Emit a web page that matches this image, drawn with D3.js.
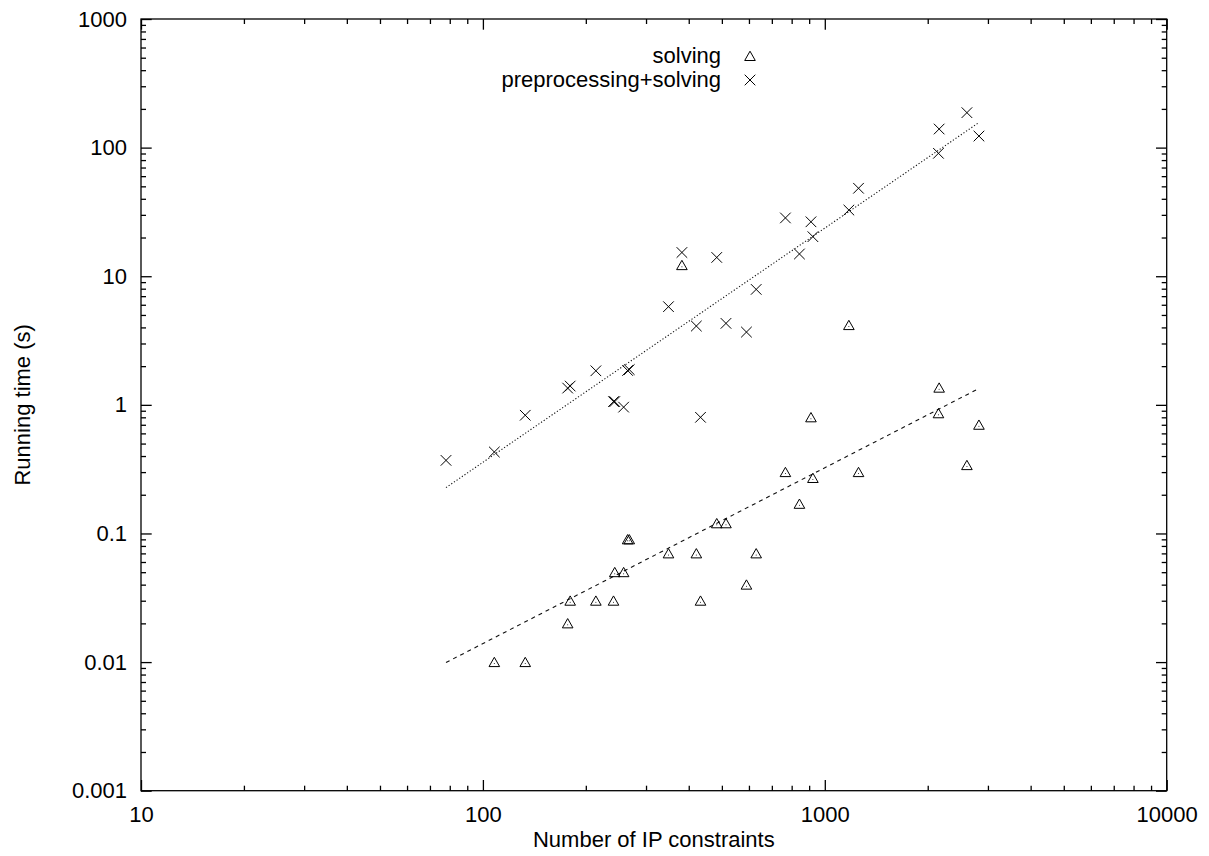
<!DOCTYPE html>
<meta charset="utf-8">
<style>
body { margin: 0; background: #fff; }
text { font-family: "Liberation Sans", Arial, sans-serif; font-size: 22px; fill: #000; }
.tick line, .border { stroke: #000; stroke-width: 1.3; }
.border { fill: none; }
.mark { fill: none; stroke: #000; stroke-width: 1; }
.fit { fill: none; stroke: #111; stroke-width: 1.1; }
</style>
<svg width="1209" height="856"></svg>
<script src="https://d3js.org/d3.v7.min.js"></script>
<script>

// instances: number of IP constraints, solving time, preprocessing+solving time
var constraints = [78, 108, 133, 177, 180, 214, 241, 243, 258, 265, 268, 349, 382, 421, 433,
  483, 514, 590, 630, 767, 843, 911, 923, 1176, 1255, 2160, 2150, 2604, 2824];
var solvingTime = [null, 0.01, 0.01, 0.02, 0.03, 0.03, 0.03, 0.05, 0.05, 0.09, 0.09, 0.07, 12.2, 0.07, 0.03,
  0.12, 0.12, 0.04, 0.07, 0.30, 0.17, 0.80, 0.27, 4.17, 0.30, 1.36, 0.86, 0.34, 0.70];
var totalTime = [0.37, 0.43, 0.83, 1.35, 1.40, 1.84, 1.06, 1.06, 0.96, 1.85, 1.88, 5.8, 15.3, 4.1, 0.80,
  14.0, 4.3, 3.68, 7.9, 28.4, 14.9, 26.5, 20.3, 32.7, 48.3, 139.5, 90.3, 187, 123];

// power-law fits y = coef * x^exp  (solving, preprocessing+solving)
var fitCoef = [2.57e-5, 8.15e-5];
var fitExp = [1.367, 1.821];

var seriesNames = ["solving", "preprocessing+solving"];
var xTickValues = [10, 100, 1000, 10000];
var xTickLabels = ["10", "100", "1000", "10000"];
var yTickValues = [0.001, 0.01, 0.1, 1, 10, 100, 1000];
var yTickLabels = ["0.001", "0.01", "0.1", "1", "10", "100", "1000"];

var margin = {top: 19, right: 42.3, bottom: 65.3, left: 141},
    W = 1209, H = 856,
    width = W - margin.left - margin.right,
    height = H - margin.top - margin.bottom;

var svg = d3.select("svg");
var g = svg.append("g")
    .attr("transform", "translate(" + margin.left + "," + margin.top + ")");

var x = d3.scaleLog().domain([10, 10000]).range([0, width]),
    y = d3.scaleLog().domain([0.001, 1000]).range([height, 0]);

var xMinor = x.ticks().filter(function(d) { return xTickValues.indexOf(d) < 0; });
var yMinor = y.ticks().filter(function(d) { return yTickValues.indexOf(+d.toPrecision(1)) < 0; });

function clean(sel) {
  sel.select(".domain").remove();
  sel.attr("font-size", null).attr("font-family", null);
}

var major = 10.7, minor = 5;

// major ticks with labels
g.append("g")
    .attr("transform", "translate(0," + height + ")")
    .call(d3.axisBottom(x).tickValues(xTickValues)
      .tickFormat(function(d, i) { return xTickLabels[i]; })
      .tickSize(-major).tickPadding(16))
    .call(clean);
g.append("g")
    .call(d3.axisLeft(y).tickValues(yTickValues)
      .tickFormat(function(d, i) { return yTickLabels[i]; })
      .tickSize(-major).tickPadding(14))
    .call(clean);
// mirrored ticks
g.append("g")
    .call(d3.axisTop(x).tickValues(xTickValues).tickFormat("").tickSize(-major))
    .call(clean);
g.append("g")
    .attr("transform", "translate(" + width + ",0)")
    .call(d3.axisRight(y).tickValues(yTickValues).tickFormat("").tickSize(-major))
    .call(clean);
// minor ticks
g.append("g")
    .attr("transform", "translate(0," + height + ")")
    .call(d3.axisBottom(x).tickValues(xMinor).tickFormat("").tickSize(-minor))
    .call(clean);
g.append("g")
    .call(d3.axisTop(x).tickValues(xMinor).tickFormat("").tickSize(-minor))
    .call(clean);
g.append("g")
    .call(d3.axisLeft(y).tickValues(yMinor).tickFormat("").tickSize(-minor))
    .call(clean);
g.append("g")
    .attr("transform", "translate(" + width + ",0)")
    .call(d3.axisRight(y).tickValues(yMinor).tickFormat("").tickSize(-minor))
    .call(clean);

g.append("rect")
    .attr("class", "border")
    .attr("width", width)
    .attr("height", height);

// axis titles
g.append("text")
    .attr("x", width / 2)
    .attr("y", height + 56)
    .attr("text-anchor", "middle")
    .text("Number of IP constraints");
svg.append("text")
    .attr("transform", "translate(30," + (margin.top + height / 2) + ") rotate(-90)")
    .attr("text-anchor", "middle")
    .text("Running time (s)");

// fit lines
var xExtent = d3.extent(constraints);
var line = d3.line()
    .x(function(d) { return x(d[0]); })
    .y(function(d) { return y(d[1]); });
var fitStyles = ["4,4", "1.2,2"];
fitCoef.forEach(function(c, k) {
  var pts = xExtent.map(function(v) { return [v, c * Math.pow(v, fitExp[k])]; });
  g.append("path")
      .attr("class", "fit")
      .attr("stroke-dasharray", fitStyles[k])
      .attr("d", line(pts));
});

// point glyphs
var triangle = "M0,-4.8L5.3,4.5L-5.3,4.5Z";
var cross = "M-5.3,-5.3L5.3,5.3M-5.3,5.3L5.3,-5.3";

var solvingData = constraints.map(function(c, i) { return [c, solvingTime[i]]; })
    .filter(function(d) { return d[1] != null; });
var totalData = constraints.map(function(c, i) { return [c, totalTime[i]]; });

var tri = g.append("g").selectAll("g")
    .data(solvingData)
  .enter().append("g")
    .attr("transform", function(d) { return "translate(" + x(d[0]) + "," + y(d[1]) + ")"; });
tri.append("path").attr("class", "mark").attr("d", triangle);
tri.append("circle").attr("r", 0.5).attr("cy", 1.5).attr("fill", "#000");

g.append("g").selectAll("path")
    .data(totalData)
  .enter().append("path")
    .attr("class", "mark")
    .attr("transform", function(d) { return "translate(" + x(d[0]) + "," + y(d[1]) + ")"; })
    .attr("d", cross);

// key
var key = svg.append("g").selectAll("g")
    .data(seriesNames)
  .enter().append("g")
    .attr("transform", function(d, i) { return "translate(0," + (63 + i * 24) + ")"; });
key.append("text")
    .attr("x", 721)
    .attr("text-anchor", "end")
    .text(function(d) { return d; });
key.append("path")
    .attr("class", "mark")
    .attr("transform", "translate(750,-7)")
    .attr("d", function(d, i) { return i === 0 ? triangle : cross; });

</script>
